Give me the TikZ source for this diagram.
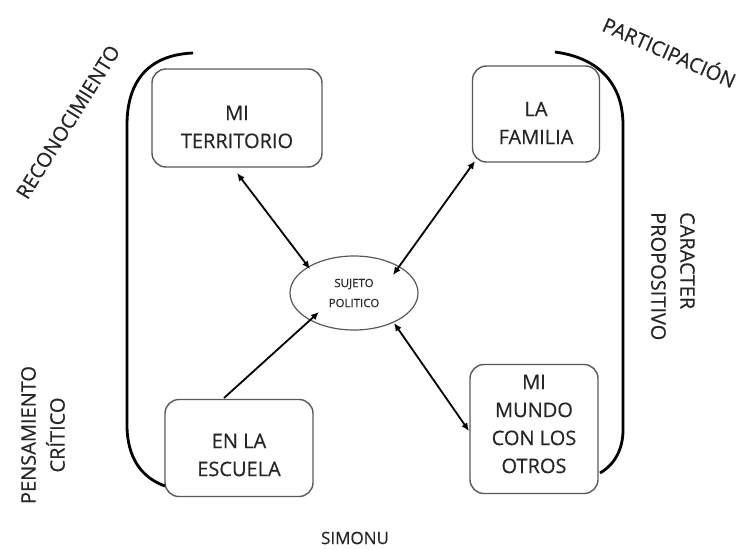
\documentclass[tikz,border=0pt]{standalone}
\usepackage{fontspec}
\setmainfont{Open Sans}[RawFeature={embolden=0.5}]
\usetikzlibrary{arrows.meta,shapes.geometric}
\begin{document}
\begin{tikzpicture}[x=1pt,y=-1pt,
  box/.style={draw=black!65,line width=1.4pt,rounded corners=14pt,inner sep=0pt},
  boxtext/.style={align=center,font=\fontsize{20}{28}\selectfont,inner sep=0pt,text=black!85},
  lbl/.style={font=\fontsize{20}{29}\selectfont,inner sep=0pt,text=black!85},
  conn/.style={line width=1.8pt,{Latex[length=8pt,width=7pt]}-{Latex[length=8pt,width=7pt]}},
  bracket/.style={line width=2.8pt}]
\useasboundingbox (0,0) rectangle (739,549);
% boxes
\node[box,minimum width=170pt,minimum height=98pt,
  label={[boxtext,yshift=-9pt]center:{MI\\TERRITORIO}}] (terr) at (237,118) {};
\node[box,minimum width=127pt,minimum height=96pt,
  label={[boxtext,yshift=-9pt]center:{LA\\FAMILIA}}] (fam) at (536,114) {};
\node[box,minimum width=148pt,minimum height=97pt,
  label={[boxtext,yshift=-7pt]center:{EN LA\\ESCUELA}}] (esc) at (239,448) {};
\node[box,minimum width=128pt,minimum height=129pt,
  label={[boxtext,yshift=5pt]center:{MI\\MUNDO\\CON LOS\\OTROS}}] (mundo) at (534,429) {};
% ellipse
\node[ellipse,draw=black!65,line width=1.2pt,minimum width=128pt,minimum height=74pt,
  align=center,font=\fontsize{11.5}{20}\selectfont,inner sep=0pt,text=black!85] (suj) at (354,293) {SUJETO\\POLITICO};
% connector ends
\coordinate (t1) at (237,173);
\coordinate (t2) at (310,269);
\coordinate (f1) at (475,161);
\coordinate (f2) at (393,275);
\coordinate (e1) at (224,398);
\coordinate (e2) at (319,312);
\coordinate (m1) at (394,323);
\coordinate (m2) at (469,431);
\draw[conn] (t1) -- (t2);
\draw[conn] (f2) -- (f1);
\draw[line width=1.8pt,-{Latex[length=8pt,width=7pt]}] (e1) -- (e2);
\draw[conn] (m1) -- (m2);
% brackets
\coordinate (lb1) at (193,53);
\coordinate (lb2) at (165,486);
\draw[bracket] (lb1) .. controls (145,55) and (127,85) .. (127,125)
  -- (127,425) .. controls (127,458) and (142,478) .. (lb2);
\coordinate (rb1) at (555,52);
\coordinate (rb2) at (600,473);
\draw[bracket] (rb1) .. controls (600,58) and (623,85) .. (623,125)
  -- (623,430) .. controls (623,450) and (614,465) .. (rb2);
% side labels
\node[lbl,rotate=58] (rec) at (68,122) {RECONOCIMIENTO};
\node[lbl,rotate=-24] (par) at (670,51) {PARTICIPACIÓN};
\node[lbl,rotate=-90,align=left,anchor=north west] (car) at (695,212) {CARACTER\\PROPOSITIVO};
\node[lbl,rotate=90,align=center] (pen) at (43,435) {PENSAMIENTO\\CRÍTICO};
\node[font=\fontsize{17}{20}\selectfont,inner sep=0pt,text=black!85] (sim) at (355,538) {SIMONU};
\end{tikzpicture}
\end{document}
